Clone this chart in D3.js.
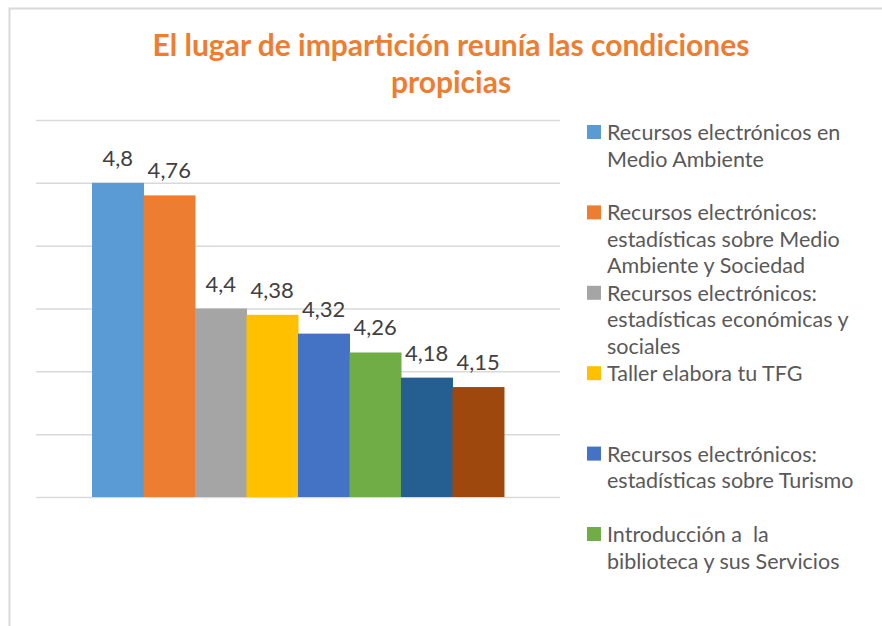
<!DOCTYPE html>
<html>
<head>
<meta charset="utf-8">
<script src="https://cdn.jsdelivr.net/npm/d3@7"></script>
<style>
  body { margin: 0; background: #fff; }
  svg { display: block; font-family: Lato, "Open Sans", sans-serif; }
</style>
</head>
<body>
<svg id="chart" width="882" height="626"></svg>
<script>
// data
var title = ['El lugar de impartición reunía las condiciones', 'propicias'];
var categories = [''];
var seriesNames = [
  'Recursos electrónicos en\nMedio Ambiente',
  'Recursos electrónicos:\nestadísticas sobre Medio\nAmbiente y Sociedad',
  'Recursos electrónicos:\nestadísticas económicas y\nsociales',
  'Taller elabora tu TFG',
  'Recursos electrónicos:\nestadísticas sobre Turismo',
  'Introducción a  la\nbiblioteca y sus Servicios',
  'Series 7',
  'Series 8'
];
var seriesValues = [4.8, 4.76, 4.4, 4.38, 4.32, 4.26, 4.18, 4.15];
var yTicks = [3.8, 4.0, 4.2, 4.4, 4.6, 4.8, 5.0];
var colors = ['#5B9BD5', '#ED7D31', '#A5A5A5', '#FFC000', '#4472C4', '#70AD47', '#255E91', '#9E480E'];
var legendShown = 6; // the legend box only had room for six entries

var svg = d3.select('#chart');

// outer border of the chart area
svg.append('rect')
  .attr('x', 9.5).attr('y', 8.5)
  .attr('width', 900).attr('height', 700)
  .attr('fill', 'none')
  .attr('stroke', '#D9D9D9')
  .attr('stroke-width', 2);

// title
svg.append('text')
  .attr('x', 451)
  .attr('text-anchor', 'middle')
  .attr('fill', '#ED7D31')
  .attr('font-weight', 'bold')
  .attr('font-size', '30px')
  .selectAll('tspan')
  .data(title)
  .enter()
  .append('tspan')
  .attr('x', 451)
  .attr('y', function (d, i) { return 56 + i * 37; })
  .text(function (d) { return d; });

var plot = { left: 36, right: 560, top: 120, bottom: 497 };

var y = d3.scaleLinear().domain([3.8, 5.0]).range([plot.bottom, plot.top]);

var x0 = d3.scaleBand().domain(categories)
  .range([plot.left, plot.right])
  .paddingOuter(0.136);

var x1 = d3.scaleBand().domain(d3.range(seriesValues.length))
  .range([0, x0.bandwidth()]);

// gridlines
var grid = svg.append('g')
  .attr('transform', 'translate(' + plot.left + ',0)')
  .call(d3.axisLeft(y).tickValues(yTicks)
    .tickSize(-(plot.right - plot.left))
    .tickFormat(''));
grid.select('.domain').remove();
grid.selectAll('.tick line').attr('stroke', '#D9D9D9').attr('stroke-width', 1.5);

// bars
var group = svg.append('g')
  .attr('transform', 'translate(' + x0(categories[0]) + ',0)');

group.selectAll('rect')
  .data(seriesValues)
  .enter()
  .append('rect')
  .attr('x', function (d, i) { return x1(i); })
  .attr('y', function (d) { return y(d); })
  .attr('width', x1.bandwidth() + 0.5)
  .attr('height', function (d) { return y(3.8) - y(d); })
  .attr('fill', function (d, i) { return colors[i]; });

// value labels
group.selectAll('text.label')
  .data(seriesValues)
  .enter()
  .append('text')
  .attr('class', 'label')
  .attr('x', function (d, i) { return x1(i) + x1.bandwidth() / 2; })
  .attr('y', function (d) { return y(d) - 17; })
  .attr('text-anchor', 'middle')
  .attr('fill', '#404040')
  .attr('font-size', '22px')
  .text(function (d) { return String(d).replace('.', ','); });

// legend
var legend = svg.append('g');
var entries = legend.selectAll('g')
  .data(seriesNames.slice(0, legendShown))
  .enter()
  .append('g')
  .attr('transform', function (d, i) { return 'translate(587,' + (140 + i * 80.4) + ')'; });

entries.append('rect')
  .attr('x', 0).attr('y', -15)
  .attr('width', 14).attr('height', 14)
  .attr('fill', function (d, i) { return colors[i]; });

entries.append('text')
  .attr('fill', '#595959')
  .attr('font-size', '21.5px')
  .selectAll('tspan')
  .data(function (d) { return d.split('\n'); })
  .enter()
  .append('tspan')
  .attr('x', 20)
  .attr('y', function (d, i) { return i * 26.5; })
  .style('white-space', 'pre')
  .text(function (d) { return d; });
</script>
</body>
</html>
